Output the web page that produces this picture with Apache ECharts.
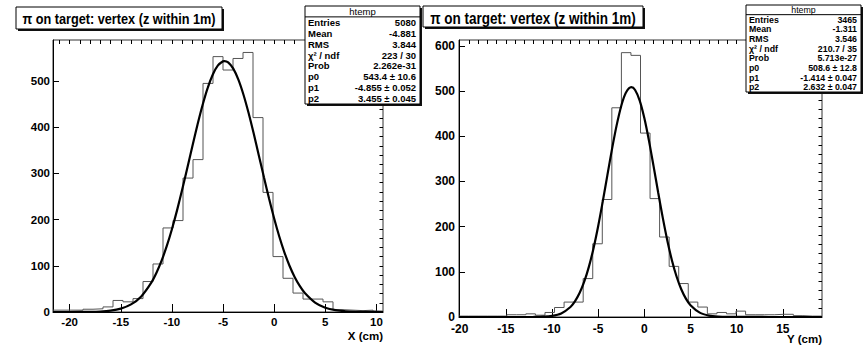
<!DOCTYPE html>
<html>
<head>
<meta charset="utf-8">
<script src="https://cdn.jsdelivr.net/npm/echarts@6/dist/echarts.min.js"></script>
<style>
  html, body { margin: 0; padding: 0; background: #fff; }
  #chart { width: 865px; height: 346px; }
</style>
</head>
<body>
<div id="chart"></div>
<script>
const titleText = 'π on target: vertex (z within 1m)';

// left histogram, X (cm): 33 bins
const xBinLow = -21.63;
const xBinWidth = 0.978;
const xCounts = [4, 4, 4, 6, 7, 11, 25, 22, 29, 66, 104, 182, 198, 290, 330, 495, 553,
  524, 549, 562, 421, 259, 120, 73, 41, 28, 28, 22, 5, 4, 3, 4, 2];
// gaus fit
const xFitX = [-21.63, -20, -18, -17, -16, -15, -14, -13, -12, -11.5, -11, -10.5, -10, -9.5, -9,
  -8.5, -8, -7.5, -7, -6.5, -6, -5.5, -5, -4.86, -4.5, -4, -3.5, -3, -2.5, -2, -1.5, -1, -0.5,
  0, 0.5, 1, 1.5, 2, 2.5, 3, 4, 5, 6, 7, 8, 9, 10.65];
const xFitY = [0, 0, 0.4, 1.1, 3, 7.3, 16.4, 33.8, 64.1, 85.5, 111.7, 143, 179.3, 220.1, 264.6,
  311.5, 359.1, 405.4, 448.1, 485.2, 514.4, 534, 542.9, 543.4, 540.5, 527, 503.2, 470.5, 430.8,
  386.3, 339.1, 291.6, 245.6, 202.5, 163.5, 129.3, 100.1, 75.9, 56.4, 41, 20.4, 9.3, 3.9, 1.5,
  0.5, 0.2, 0];
const xTicks = [-20, -15, -10, -5, 0, 5, 10];
const xYTicks = [0, 100, 200, 300, 400, 500];
const xStatValues = ['5080', '-4.881', '3.844', '223 / 30', '2.262e-31',
  '543.4 ± 10.6', '-4.855 ± 0.052', '3.455 ± 0.045'];

// right histogram, Y (cm): 38 bins
const yBinLow = -20.07;
const yBinWidth = 1.0345;
const yCounts = [2, 2, 2, 2, 2, 5, 5, 7, 4, 10, 21, 33, 33, 85, 162, 260, 463, 585, 579, 407,
  262, 177, 112, 74, 33, 22, 7, 10, 7, 13, 5, 5, 5, 6, 6, 3, 2, 2];
const yFitX = [-20.07, -14, -12, -11, -10, -9, -8, -7.5, -7, -6.5, -6, -5.5, -5, -4.5, -4, -3.5,
  -3, -2.5, -2, -1.41, -1, -0.5, 0, 0.5, 1, 1.5, 2, 2.5, 3, 3.5, 4, 4.5, 5, 6, 7, 8, 9, 19.24];
const yFitY = [0, 0, 0.2, 0.7, 2.5, 8, 22.2, 35.1, 53.5, 78.6, 111.4, 152.4, 201, 255.8, 313.9,
  371.5, 424.1, 467.1, 496.1, 508.6, 502.4, 478.9, 440.2, 390.4, 333.9, 275.6, 219.3, 168.4,
  124.6, 89, 61.3, 40.7, 26.1, 9.6, 3.1, 0.8, 0.2, 0];
const yTicks = [-20, -15, -10, -5, 0, 5, 10, 15];
const yYTicks = [0, 100, 200, 300, 400, 500, 600];
const yStatValues = ['3465', '-1.311', '3.546', '210.7 / 35', '5.713e-27',
  '508.6 ± 12.8', '-1.414 ± 0.047', '2.632 ± 0.047'];

const statLabels = ['Entries', 'Mean', 'RMS', 'χ² / ndf', 'Prob', 'p0', 'p1', 'p2'];

const FONT = '"Liberation Sans", Arial, sans-serif';

const chart = echarts.init(document.getElementById('chart'), null, { renderer: 'svg' });

// histogram outline as step line
function histSteps(low, width, counts) {
  const pts = counts.map((c, i) => [low + i * width, c]);
  pts.push([low + counts.length * width, counts[counts.length - 1]]);
  return pts;
}
function range(a, b, step) {
  const out = [];
  for (let v = a; v <= b + 1e-9; v += step) out.push(Math.round(v * 100) / 100);
  return out;
}

function xAxes(grid, min, max, major, minor, labelSize, margin) {
  return [
    {
      gridIndex: grid, type: 'value', min: min, max: max,
      axisLine: { show: true, onZero: false, lineStyle: { color: '#000', width: 1 } },
      axisTick: { show: true, inside: true, length: 8, customValues: major, lineStyle: { color: '#000' } },
      axisLabel: { customValues: major, margin: margin, color: '#000', fontSize: labelSize,
        fontWeight: 'bold', fontFamily: FONT },
      splitLine: { show: false }
    },
    {
      gridIndex: grid, type: 'value', min: min, max: max,
      axisLine: { show: false, onZero: false },
      axisTick: { show: true, inside: true, length: 4, customValues: minor, lineStyle: { color: '#000' } },
      axisLabel: { show: false },
      splitLine: { show: false }
    }
  ];
}
function yAxes(grid, max, major, minor, labelSize, margin) {
  return [
    {
      gridIndex: grid, type: 'value', min: 0, max: max,
      axisLine: { show: true, onZero: false, lineStyle: { color: '#000', width: 1 } },
      axisTick: { show: true, inside: true, length: 6, customValues: major, lineStyle: { color: '#000' } },
      axisLabel: { customValues: major, margin: margin, color: '#000', fontSize: labelSize,
        fontWeight: 'bold', fontFamily: FONT },
      splitLine: { show: false }
    },
    {
      gridIndex: grid, type: 'value', min: 0, max: max,
      axisLine: { show: false, onZero: false },
      axisTick: { show: true, inside: true, length: 3.5, customValues: minor, lineStyle: { color: '#000' } },
      axisLabel: { show: false },
      splitLine: { show: false }
    }
  ];
}

// ROOT-like boxes with a drop shadow
function titleBox(x, y, w, h, size) {
  return [
    { type: 'rect', z: 100, shape: { x: x + 2, y: y + 2, width: w, height: h }, style: { fill: '#111' } },
    { type: 'rect', z: 101, shape: { x: x, y: y, width: w, height: h },
      style: { fill: '#fff', stroke: '#000', lineWidth: 1 } },
    { type: 'text', z: 102, x: x + w / 2, y: y + h / 2 + 1, scaleX: 0.82,
      style: { text: titleText, x: 0, y: 0, textAlign: 'center', textVerticalAlign: 'middle',
        fill: '#000', font: 'bold ' + size + 'px ' + FONT } }
  ];
}

function statBox(x, y, w, h, values, size) {
  const lh = h / 9;
  const els = [
    { type: 'rect', z: 100, shape: { x: x + 2, y: y + 2, width: w, height: h }, style: { fill: '#111' } },
    { type: 'rect', z: 101, shape: { x: x, y: y, width: w, height: h },
      style: { fill: '#fff', stroke: '#000', lineWidth: 1 } },
    { type: 'line', z: 102, shape: { x1: x, y1: y + lh, x2: x + w, y2: y + lh },
      style: { stroke: '#000', lineWidth: 1 } },
    { type: 'text', z: 102, style: { text: 'htemp', x: x + w / 2, y: y + lh / 2 + 0.5,
      textAlign: 'center', textVerticalAlign: 'middle', fill: '#000', font: size + 'px ' + FONT } }
  ];
  statLabels.forEach((lab, i) => {
    const cy = y + lh * (i + 1.5);
    els.push({ type: 'text', z: 102, style: { text: lab, x: x + 3, y: cy,
      textAlign: 'left', textVerticalAlign: 'middle', fill: '#000', font: 'bold ' + size + 'px ' + FONT } });
    els.push({ type: 'text', z: 102, style: { text: values[i], x: x + w - 4, y: cy,
      textAlign: 'right', textVerticalAlign: 'middle', fill: '#000', font: 'bold ' + size + 'px ' + FONT } });
  });
  return els;
}

const xMin = xBinLow, xMax = xBinLow + xCounts.length * xBinWidth;
const yMin = yBinLow, yMax = yBinLow + yCounts.length * yBinWidth;

const option = {
  backgroundColor: '#fff',
  animation: false,
  grid: [
    { left: 53, top: 40, width: 330, height: 272, show: true, borderColor: '#333', borderWidth: 1 },
    { left: 459, top: 40, width: 363, height: 277, show: true, borderColor: '#333', borderWidth: 1 }
  ],
  xAxis: [
    ...xAxes(0, xMin, xMax, xTicks, range(-21, 10, 1), 11.5, 4),
    ...xAxes(1, yMin, yMax, yTicks, range(-20, 19, 1), 12, 6)
  ],
  yAxis: [
    ...yAxes(0, 589, xYTicks, range(0, 580, 20), 11.5, 3),
    ...yAxes(1, 613, yYTicks, range(0, 600, 20), 12, 4)
  ],
  series: [
    { type: 'line', xAxisIndex: 0, yAxisIndex: 0, step: 'end', symbol: 'none',
      data: histSteps(xBinLow, xBinWidth, xCounts), lineStyle: { color: '#555', width: 1 } },
    { type: 'line', xAxisIndex: 0, yAxisIndex: 0, smooth: 0.3, symbol: 'none',
      data: xFitX.map((v, i) => [v, xFitY[i]]), lineStyle: { color: '#000', width: 2.2 } },
    { type: 'line', xAxisIndex: 2, yAxisIndex: 2, step: 'end', symbol: 'none',
      data: histSteps(yBinLow, yBinWidth, yCounts), lineStyle: { color: '#555', width: 1 } },
    { type: 'line', xAxisIndex: 2, yAxisIndex: 2, smooth: 0.3, symbol: 'none',
      data: yFitX.map((v, i) => [v, yFitY[i]]), lineStyle: { color: '#000', width: 2.2 } }
  ],
  graphic: [
    ...titleBox(16, 7, 206, 22, 15.5),
    ...titleBox(423, 6, 220, 21, 16.5),
    ...statBox(305, 6, 115, 98, xStatValues, 9.5),
    ...statBox(746, 5, 115, 87, yStatValues, 8.8),
    { type: 'text', z: 102, style: { text: 'X (cm)', x: 383, y: 336, textAlign: 'right',
      textVerticalAlign: 'middle', fill: '#000', font: 'bold 11.5px ' + FONT } },
    { type: 'text', z: 102, style: { text: 'Y (cm)', x: 822, y: 339, textAlign: 'right',
      textVerticalAlign: 'middle', fill: '#000', font: 'bold 11.5px ' + FONT } }
  ]
};

chart.setOption(option);
</script>
</body>
</html>
